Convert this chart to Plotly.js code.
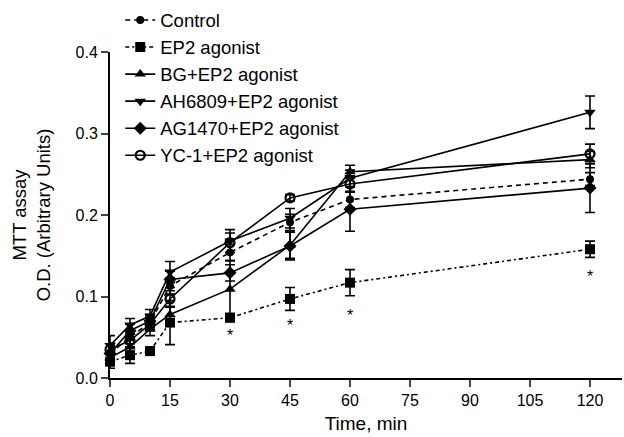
<!DOCTYPE html>
<html><head><meta charset="utf-8">
<script src="https://cdn.plot.ly/plotly-3.0.1.min.js"></script>
<style>body{margin:0;background:#fff}#chart{width:624px;height:437px}</style>
</head><body><div id="chart"></div>
<script>
const time = [0, 5, 10, 15, 30, 45, 60, 120];
const seriesNames = ["Control", "EP2 agonist", "BG+EP2 agonist", "AH6809+EP2 agonist", "AG1470+EP2 agonist", "YC-1+EP2 agonist"];
const control   = [0.030, 0.050, 0.068, 0.113, 0.154, 0.191, 0.219, 0.244];
const controlErr= [0.008, 0.008, 0.008, 0.010, 0.010, 0.010, 0.010, 0.008];
const ep2       = [0.020, 0.028, 0.033, 0.068, 0.074, 0.097, 0.117, 0.158];
const ep2Err    = [0.008, 0.010, 0.005, 0.027, 0.005, 0.014, 0.016, 0.010];
const bg        = [0.025, 0.038, 0.060, 0.078, 0.109, 0.163, 0.253, 0.268];
const bgErr     = [0.008, 0.008, 0.008, 0.010, 0.035, 0.016, 0.008, 0.010];
const ah6809    = [0.040, 0.065, 0.076, 0.130, 0.168, 0.196, 0.245, 0.326];
const ah6809Err = [0.012, 0.008, 0.008, 0.013, 0.014, 0.012, 0.010, 0.020];
const ag1470    = [0.030, 0.058, 0.070, 0.121, 0.129, 0.162, 0.207, 0.233];
const ag1470Err = [0.010, 0.008, 0.008, 0.010, 0.010, 0.017, 0.027, 0.030];
const yc1       = [0.035, 0.046, 0.066, 0.097, 0.166, 0.221, 0.238, 0.275];
const yc1Err    = [0.008, 0.008, 0.008, 0.010, 0.012, 0.004, 0.010, 0.012];
const starTime  = [30, 45, 60, 120];
const starY     = [0.050, 0.063, 0.075, 0.123];

const values = [control, ep2, bg, ah6809, ag1470, yc1];
const errs = [controlErr, ep2Err, bgErr, ah6809Err, ag1470Err, yc1Err];
const symbols = ["circle", "square", "triangle-up", "triangle-down", "diamond", "circle-open"];
const dashes = ["5px,4px", "4px,3px,2px,3px", "solid", "solid", "solid", "solid"];
const msizes = [8, 10, 10, 10, 10, 9];

const traces = values.map((v, i) => ({
  x: time, y: v, name: seriesNames[i], type: "scatter", mode: "lines+markers",
  line: {color: "#000", width: 1.6, dash: dashes[i]},
  marker: {symbol: symbols[i], size: msizes[i], color: "#000", line: {color: "#000", width: i === 5 ? 2.2 : 0}},
  error_y: {type: "data", array: errs[i], visible: true, color: "#000", thickness: 1.6, width: 5},
  cliponaxis: false
}));
traces.push({
  x: starTime, y: starY, type: "scatter", mode: "text", text: starTime.map(() => "*"),
  textfont: {family: "Liberation Sans, Arial, sans-serif", size: 16, color: "#000"},
  showlegend: false, hoverinfo: "skip", cliponaxis: false
});

const font = {family: "Liberation Sans, Arial, sans-serif", color: "#000"};
Plotly.newPlot("chart", traces, {
  width: 624, height: 437,
  margin: {l: 110, r: 2, t: 42, b: 59},
  paper_bgcolor: "#fff", plot_bgcolor: "#fff",
  font: Object.assign({size: 16}, font),
  showlegend: true,
  legend: {x: 0.02, y: 1.155, xanchor: "left", yanchor: "top", bgcolor: "rgba(0,0,0,0)",
           font: Object.assign({size: 18.5}, font), tracegroupgap: 0, itemwidth: 30},
  xaxis: {range: [0, 128], tickvals: [0, 15, 30, 45, 60, 75, 90, 105, 120], ticks: "outside", ticklen: 7,
          tickwidth: 2, showline: true, linewidth: 2, linecolor: "#000", showgrid: false, zeroline: false,
          tickfont: Object.assign({size: 16}, font),
          title: {text: "Time, min", font: Object.assign({size: 19}, font), standoff: 8}},
  yaxis: {range: [0, 0.4], tickvals: [0, 0.1, 0.2, 0.3, 0.4], tickformat: ".1f", ticks: "outside", ticklen: 7,
          tickwidth: 2, showline: true, linewidth: 2, linecolor: "#000", showgrid: false, zeroline: false,
          tickfont: Object.assign({size: 16}, font),
          title: {text: "MTT assay<br>O.D. (Arbitrary Units)", font: Object.assign({size: 18.5}, font), standoff: 20}}
}, {displayModeBar: false});
</script></body></html>
